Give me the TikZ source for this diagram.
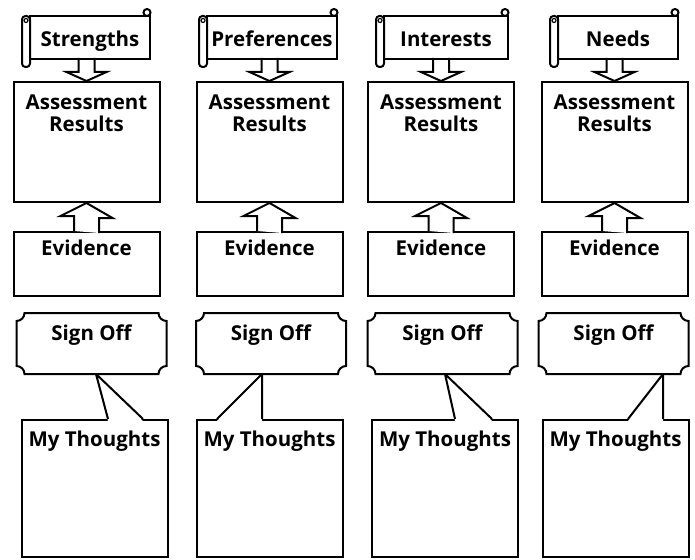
\documentclass[tikz,border=0pt]{standalone}
\usepackage{fontspec}
\setmainfont{Open Sans}
\usetikzlibrary{calc}

\tikzset{
  box/.style={draw,fill=white,minimum width=146,minimum height=#1,inner sep=0pt},
  banner/.style={draw,fill=white,minimum height=43,inner sep=0pt,
    text height=22,text depth=3,font=\bfseries\fontsize{20.5}{22}\selectfont},
  title/.style={inner sep=0pt,align=center,font=\bfseries\fontsize{20.5}{22}\selectfont},
  plate/.style={minimum width=148,minimum height=59,inner sep=0pt}
}

\begin{document}
\begin{tikzpicture}[x=1pt,y=-1pt,line width=2pt]
    \useasboundingbox (0,0) rectangle (695,559);

    \foreach \cx/\sl/\sr/\soc/\mtc/\tip/\bl/\br/\lab [count=\i] in {
        86.5/30/150/91.5/94.5/96/108/143/Strengths,
        269.5/207/337/271/269.5/262/217/262/Preferences,
        441/384/508/442.5/445/445/455/492/Interests,
        614.5/558/678/613.5/615.5/663/628/663/Needs}
    {
        \pgfmathsetmacro\bc{(\sl+\sr)/2}
        \pgfmathsetmacro\bw{\sr-\sl}

        % Scroll banner
        \node[banner,minimum width=\bw] (sc\i) at (\bc,37.5) {\lab};
        \draw[fill=white,rounded corners=3.5] (\sl-8,16) rectangle (\sl,67);
        \draw[line width=1.2pt] (\sl-4,20.5) circle[radius=2];
        \draw[fill=white] (\sr-3,12.5) circle[radius=3.5];

        % Assessment results
        \node[box=120] (ar\i) at (\cx,142) {};
        \node[title,anchor=north] at ($(ar\i.north)+(0,13)$) {Assessment\\Results};

        % Down arrow from the banner
        \draw ($(ar\i.north)+(-8,-23)$) -- ++(0,14) -- ++(-12,0) -- (ar\i.north)
            -- ++(20,-9) -- ++(-12,0) -- ++(0,-14);

        % Evidence
        \node[box=64] (ev\i) at (\cx,264) {};
        \node[title,anchor=base] at ($(ev\i.north)+(0,24)$) {Evidence};

        % Up arrow to the results
        \draw[fill=white] ($(ev\i.north)+(-12.5,0)$) -- ++(0,-15) -- ++(-13.5,0) -- (ar\i.south)
            -- ++(26,15) -- ++(-13.5,0) -- ++(0,15);

        % My thoughts with its tail
        \node[box=137] (mt\i) at (\mtc,488.5) {};
        \node[title,anchor=base] at ($(mt\i.north)+(0,27)$) {My Thoughts};
        \node[plate] (so\i) at (\soc,343.5) {};
        \coordinate (tp\i) at ($(so\i.south)+(\tip-\soc,0)$);
        \fill[white] (tp\i) -- ($(mt\i.north)+(\bl-\mtc,2)$) -- ($(mt\i.north)+(\br-\mtc,2)$) -- cycle;
        \draw ($(mt\i.north)+(\bl-\mtc,0)$) -- (tp\i) -- ($(mt\i.north)+(\br-\mtc,0)$);

        % Sign off plate
        \draw[fill=white] ($(so\i.north west)+(8,0)$) -- ($(so\i.north east)+(-8,0)$)
            arc[start angle=180,end angle=90,radius=8] -- ($(so\i.south east)+(0,-8)$)
            arc[start angle=270,end angle=180,radius=8] -- ($(so\i.south west)+(8,0)$)
            arc[start angle=360,end angle=270,radius=8] -- ($(so\i.north west)+(0,8)$)
            arc[start angle=90,end angle=0,radius=8] -- cycle;
        \node[title,anchor=base] at ($(so\i.north)+(0,27)$) {Sign Off};
    }
\end{tikzpicture}
\end{document}
